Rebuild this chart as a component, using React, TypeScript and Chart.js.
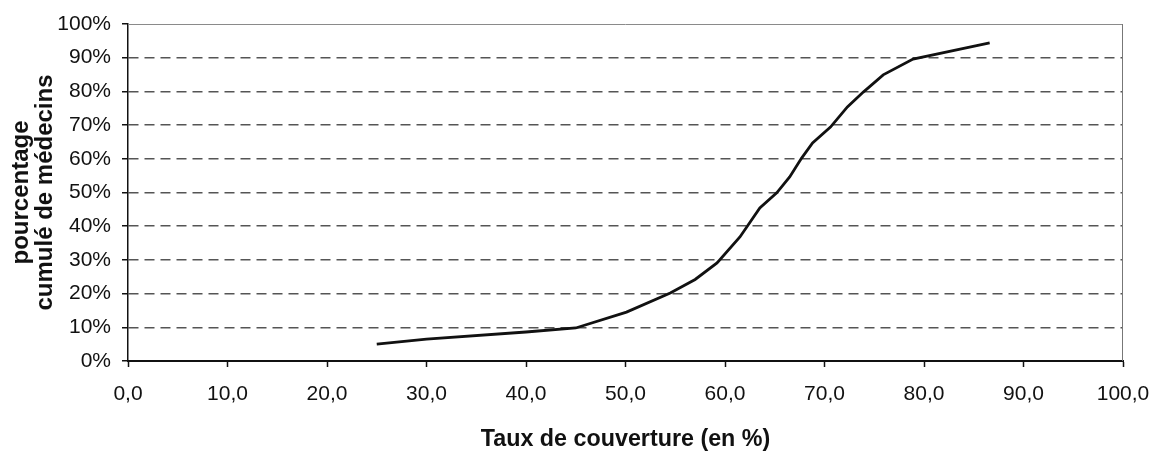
import React, { useEffect, useRef } from "react";
import { Chart, registerables } from "chart.js";

Chart.register(...registerables);

const coverage: number[] = [25.0, 30.0, 40.0, 45.0, 50.1, 54.5, 57.0, 59.2, 61.5, 63.5, 65.2, 66.5, 67.7, 68.8, 70.6, 72.3, 73.9, 75.9, 78.9, 86.6];
const cumulative: number[] = [5.0, 6.5, 8.6, 9.8, 14.5, 20.2, 24.2, 29.1, 36.8, 45.4, 49.9, 54.6, 60.2, 64.7, 69.4, 75.4, 79.8, 84.9, 89.6, 94.4];
const yTitle: string[] = ["pourcentage", "cumulé de médecins"];
const xTitle = "Taux de couverture (en %)";

const FONT = "'Liberation Sans', Arial, sans-serif";

const frame = {
  id: "frame",
  afterDatasetsDraw(chart: any) {
    const { ctx, chartArea } = chart;
    const { left, right, top, bottom } = chartArea;
    ctx.save();
    ctx.lineWidth = 1;
    ctx.strokeStyle = "#8a8a8a";
    ctx.beginPath();
    ctx.moveTo(left, top + 0.5);
    ctx.lineTo(right, top + 0.5);
    ctx.stroke();
    ctx.strokeStyle = "#777";
    ctx.beginPath();
    ctx.moveTo(right - 0.5, top);
    ctx.lineTo(right - 0.5, bottom);
    ctx.stroke();
    ctx.restore();
  },
};

export default function App() {
  const ref = useRef<HTMLCanvasElement | null>(null);
  useEffect(() => {
    if (!ref.current) return;
    const chart = new Chart(ref.current, {
      type: "line",
      data: {
        datasets: [
          {
            data: coverage.map((x, i) => ({ x, y: cumulative[i] })),
            borderColor: "#111",
            borderWidth: 2.8,
            pointRadius: 0,
            tension: 0,
            fill: false,
          },
        ],
      },
      options: {
        animation: false,
        responsive: false,
        devicePixelRatio: 1,
        layout: { padding: { top: 24, right: 30, left: 0, bottom: 0 } },
        plugins: { legend: { display: false }, tooltip: { enabled: false } },
        scales: {
          x: {
            type: "linear",
            min: 0,
            max: 100,
            afterFit: (s: any) => { s.height = 92; s.paddingLeft = 0; s.paddingRight = 0; },
            ticks: {
              stepSize: 10,
              padding: 15,
              color: "#111",
              font: { family: FONT, size: 21 },
              maxRotation: 0,
              callback: (v: any) => Number(v).toFixed(1).replace(".", ","),
            },
            grid: { drawOnChartArea: false, drawTicks: true, tickLength: 6, tickColor: "#111", tickWidth: 1.5 },
            border: { display: true, color: "#111", width: 2 },
            title: {
              display: true,
              text: xTitle,
              color: "#111",
              font: { family: FONT, size: 23.3, weight: "bold", lineHeight: 1 },
              padding: { top: 0, bottom: 2 },
            },
          },
          y: {
            min: 0,
            max: 100,
            afterFit: (s: any) => { s.width = 128; },
            ticks: {
              stepSize: 10,
              padding: 11,
              color: "#111",
              font: { family: FONT, size: 21 },
              callback: (v: any) => v + "%",
            },
            grid: {
              color: (c: any) => (c.tick && (c.tick.value === 0 || c.tick.value === 100) ? "rgba(0,0,0,0)" : "#555"),
              lineWidth: 1.5,
              drawTicks: true,
              tickLength: 6,
              tickColor: "#111",
              tickWidth: 1.5,
              tickBorderDash: [],
            },
            border: { display: true, color: "#111", width: 1.5, dash: [10, 6] },
            title: {
              display: true,
              text: yTitle,
              color: "#111",
              font: { family: FONT, size: 24, weight: "bold", lineHeight: 1.0 },
              padding: { top: 9, bottom: 0 },
            },
          },
        },
      },
      plugins: [frame],
    });
    return () => chart.destroy();
  }, []);
  return (
    <div style={{ position: "absolute", left: 0, top: 0, width: 1153, height: 453, background: "#fff" }}>
      <canvas ref={ref} width={1153} height={453} style={{ display: "block" }} />
    </div>
  );
}
